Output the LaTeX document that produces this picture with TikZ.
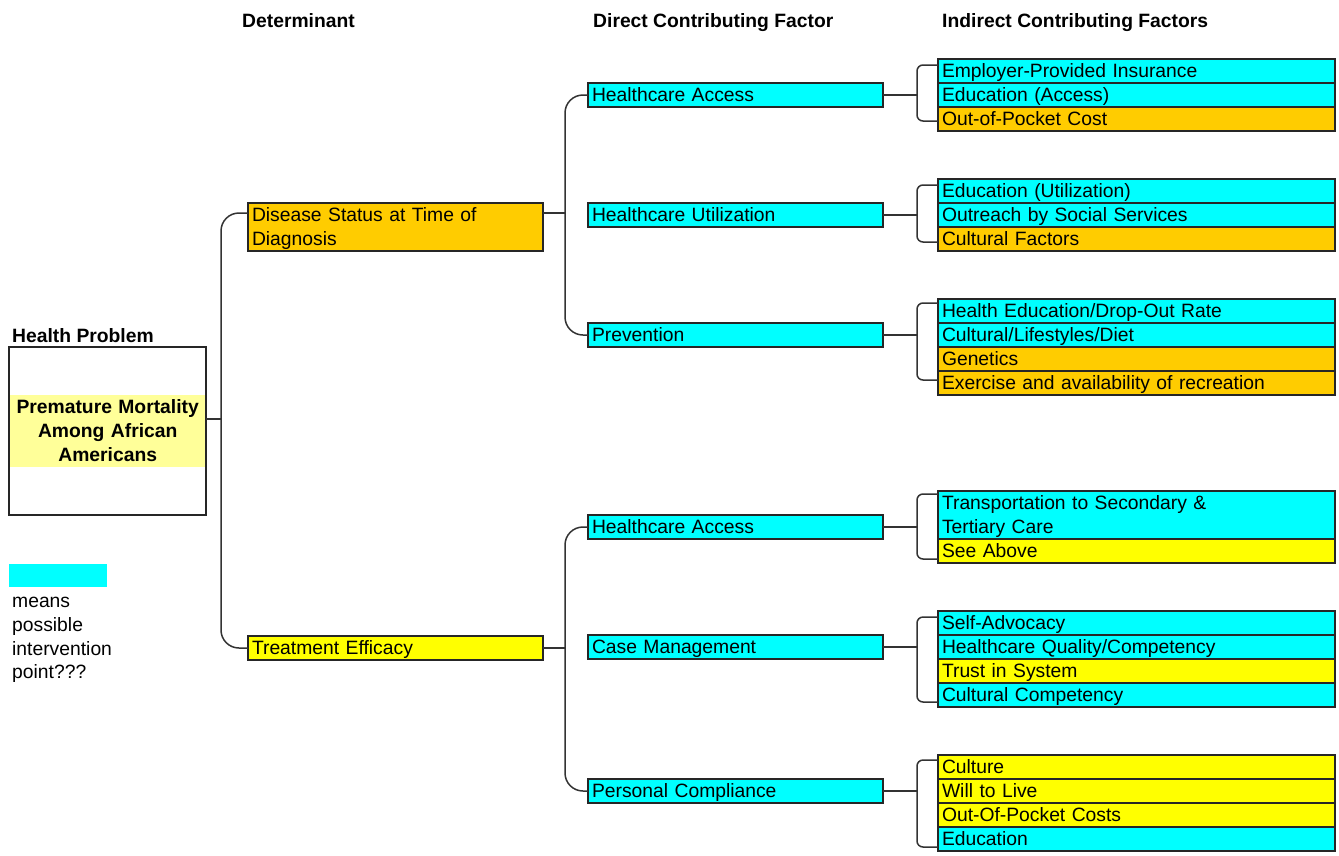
\documentclass[tikz,border=0pt]{standalone}
\usepackage{fontspec}
\setmainfont{Liberation Sans}
\usetikzlibrary{calc}
\definecolor{cy}{HTML}{00FFFF}
\definecolor{orng}{HTML}{FFCC00}
\definecolor{yel}{HTML}{FFFF00}
\definecolor{lyel}{HTML}{FFFF99}
\definecolor{lnc}{HTML}{333333}
\newcommand{\cellTop}{\rule{0pt}{18.6pt}}
\newcommand{\cellBot}{\rule[-5.4pt]{0pt}{5.4pt}}
\begin{document}
\begin{tikzpicture}[x=1pt,y=-1pt,
  box/.style={draw=black!85, line width=1.3pt, anchor=north west, inner xsep=4pt, inner ysep=0pt, outer sep=0pt,
    minimum height=24pt, align=left, font=\fontsize{19.3}{24}\selectfont,
    execute at begin node=\cellTop, execute at end node=\cellBot},
  colI/.style={box, text width=389pt},
  colD/.style={box, text width=287pt},
  fc/.style={fill=cy}, fo/.style={fill=orng}, fy/.style={fill=yel},
  hdr/.style={anchor=base west, inner sep=0pt, font=\fontsize{19.3}{24}\selectfont\bfseries},
  conn/.style={draw=lnc, line width=1.5pt}]
\useasboundingbox (0,0) rectangle (1339,855);

% headers
\node[hdr] (h1) at (242,27) {Determinant};
\node[hdr] (h2) at (593,27) {Direct Contributing Factor};
\node[hdr] (h3) at (942,27) {Indirect Contributing Factors};
\node[hdr] (h0) at (12,342) {Health Problem};

% health problem
\node[draw=black!85, line width=1.3pt, anchor=north west, minimum width=197pt, minimum height=168pt, inner sep=0pt, outer sep=0pt] (hp) at (9,347) {};
\node[fill=lyel, anchor=north west, minimum width=195pt, minimum height=72pt, inner xsep=4pt, inner ysep=0pt, text width=187pt, align=center,
  font=\fontsize{19.3}{24}\selectfont\bfseries, execute at begin node=\cellTop, execute at end node=\cellBot] (hpband) at (10,395)
  {Premature Mortality\\Among African\\Americans};

% legend
\node[fill=cy, anchor=north west, minimum width=98pt, minimum height=23pt, inner sep=0pt] (lg) at (9,564) {};
\node[anchor=north west, inner sep=0pt, text width=120pt, align=left, font=\fontsize{19.3}{23.7}\selectfont, execute at begin node=\strut] (lgt) at (12,591)
  {means\\possible\\intervention\\point???};

% determinants
\node[colD, fo, minimum height=48pt] (d1) at (248,203) {Disease Status at Time of\\Diagnosis};
\node[colD, fy] (d2) at (248,636) {Treatment Efficacy};

% direct factors
\node[colD, fc] (c1) at (588,83) {Healthcare Access};
\node[colD, fc] (c2) at (588,203) {Healthcare Utilization};
\node[colD, fc] (c3) at (588,323) {Prevention};
\node[colD, fc] (c4) at (588,515) {Healthcare Access};
\node[colD, fc] (c5) at (588,635) {Case Management};
\node[colD, fc] (c6) at (588,779) {Personal Compliance};

% indirect factors
\node[colI, fc] (i11) at (938,59) {Employer-Provided Insurance};
\node[colI, fc] (i12) at (i11.south west) {Education (Access)};
\node[colI, fo] (i13) at (i12.south west) {Out-of-Pocket Cost};

\node[colI, fc] (i21) at (938,179) {Education (Utilization)};
\node[colI, fc] (i22) at (i21.south west) {Outreach by Social Services};
\node[colI, fo] (i23) at (i22.south west) {Cultural Factors};

\node[colI, fc] (i31) at (938,299) {Health Education/Drop-Out Rate};
\node[colI, fc] (i32) at (i31.south west) {Cultural/Lifestyles/Diet};
\node[colI, fo] (i33) at (i32.south west) {Genetics};
\node[colI, fo] (i34) at (i33.south west) {Exercise and availability of recreation};

\node[colI, fc, minimum height=48pt] (i41) at (938,491) {Transportation to Secondary \&\\Tertiary Care};
\node[colI, fy] (i42) at (i41.south west) {See Above};

\node[colI, fc] (i51) at (938,611) {Self-Advocacy};
\node[colI, fc] (i52) at (i51.south west) {Healthcare Quality/Competency};
\node[colI, fy] (i53) at (i52.south west) {Trust in System};
\node[colI, fc] (i54) at (i53.south west) {Cultural Competency};

\node[colI, fy] (i61) at (938,755) {Culture};
\node[colI, fy] (i62) at (i61.south west) {Will to Live};
\node[colI, fy] (i63) at (i62.south west) {Out-Of-Pocket Costs};
\node[colI, fc] (i64) at (i63.south west) {Education};

% spines
\coordinate (s1) at (221,0);
\coordinate (s2) at (565,0);
\coordinate (s3) at (917,0);

% health problem -> determinants
\coordinate (hpo) at ($(hp.east)+(0,-12)$);
\coordinate (d1in) at ($(d1.north west)+(0,10)$);
\draw[conn] (hpo) -- (hpo -| s1);
\draw[conn, rounded corners=18pt] (d1in) -| (hpo -| s1) |- (d2.west);

% determinants -> direct
\coordinate (d1out) at ($(d1.north east)+(0,10)$);
\draw[conn] (d1out) -- (d1out -| s2);
\draw[conn, rounded corners=18pt] (c1.west) -| (d1out -| s2) |- (c3.west);
\draw[conn] (d2.east) -- (d2.east -| s2);
\draw[conn, rounded corners=18pt] (c4.west) -| (d2.east -| s2) |- (c6.west);

% direct -> indirect
\draw[conn] (c1.east) -- (c1.east -| s3);
\draw[conn, rounded corners=6pt] ($(i11.north west)+(0,6)$) -| (c1.east -| s3) |- ($(i13.south west)+(0,-10)$);
\draw[conn] (c2.east) -- (c2.east -| s3);
\draw[conn, rounded corners=6pt] ($(i21.north west)+(0,6)$) -| (c2.east -| s3) |- ($(i23.south west)+(0,-9)$);
\draw[conn] (c3.east) -- (c3.east -| s3);
\draw[conn, rounded corners=6pt] ($(i31.north west)+(0,4)$) -| (c3.east -| s3) |- ($(i34.south west)+(0,-15)$);
\draw[conn] (c4.east) -- (c4.east -| s3);
\draw[conn, rounded corners=6pt] ($(i41.north west)+(0,3)$) -| (c4.east -| s3) |- ($(i42.south west)+(0,-4)$);
\draw[conn] (c5.east) -- (c5.east -| s3);
\draw[conn, rounded corners=6pt] ($(i51.north west)+(0,6)$) -| (c5.east -| s3) |- ($(i54.south west)+(0,-5)$);
\draw[conn] (c6.east) -- (c6.east -| s3);
\draw[conn, rounded corners=6pt] ($(i61.north west)+(0,5)$) -| (c6.east -| s3) |- ($(i64.south west)+(0,-4)$);
\end{tikzpicture}
\end{document}
